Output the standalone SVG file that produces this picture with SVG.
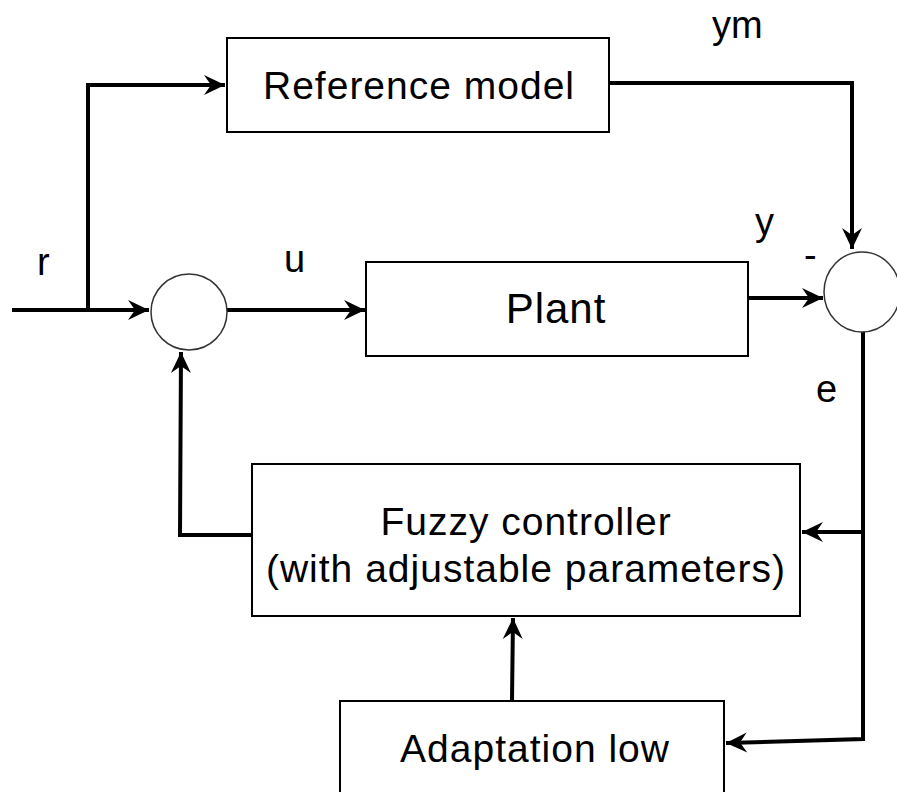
<svg xmlns="http://www.w3.org/2000/svg" width="897" height="792" viewBox="0 0 897 792">
<defs>
<marker id="ah" markerUnits="userSpaceOnUse" markerWidth="26" markerHeight="26" viewBox="-24 -13 26 26" refX="0" refY="0" orient="auto">
<path d="M0,0 L-21,-10 L-14,0 L-21,10 Z" fill="#000"/>
</marker>
</defs>
<style>
.box{fill:#fff;stroke:#000;stroke-width:2}
.sum{fill:#fff;stroke:#333;stroke-width:1.5}
.wire{fill:none;stroke:#000;stroke-width:4;stroke-linejoin:miter}
.lbl{font-family:"Liberation Sans",Arial,sans-serif;font-size:38px;fill:#000}
.t{font-family:"Liberation Sans",Arial,sans-serif;font-size:39px;letter-spacing:1px;fill:#000;text-anchor:middle}
</style>
<rect width="897" height="792" fill="#fff"/>
<g id="connectors">
<path class="wire" d="M12,310 L149,310" marker-end="url(#ah)"/>
<path class="wire" d="M88,310 L88,85 L225,85" marker-end="url(#ah)"/>
<path class="wire" d="M227,310 L365,310" marker-end="url(#ah)"/>
<path class="wire" d="M609,83 L852,83 L852,249" marker-end="url(#ah)"/>
<path class="wire" d="M748,298 L823,298" marker-end="url(#ah)"/>
<path class="wire" d="M863,331 L863,739 L726,743" marker-end="url(#ah)"/>
<path class="wire" d="M863,532 L802,532" marker-end="url(#ah)"/>
<path class="wire" d="M252,535 L180,535 L181,352" marker-end="url(#ah)"/>
<path class="wire" d="M512,700 L513,618" marker-end="url(#ah)"/>
</g>
<g id="sum1"><circle class="sum" cx="189" cy="312" r="38"/></g>
<g id="sum2"><ellipse class="sum" cx="862" cy="292" rx="38" ry="40"/></g>
<g id="reference-model">
<rect class="box" x="227" y="38" width="382" height="94"/>
<text class="t" x="419" y="99">Reference model</text>
</g>
<g id="plant">
<rect class="box" x="366" y="262" width="382" height="94"/>
<text class="t" x="556" y="323" style="font-size:42px">Plant</text>
</g>
<g id="fuzzy-controller">
<rect class="box" x="252" y="464" width="548" height="152"/>
<text class="t" x="526" y="535">Fuzzy controller</text>
<text class="t" x="526" y="582">(with adjustable parameters)</text>
</g>
<g id="adaptation-low">
<rect class="box" x="340" y="701" width="384" height="110"/>
<text class="t" x="535" y="762">Adaptation low</text>
</g>
<g id="labels">
<text class="lbl" x="37" y="275">r</text>
<text class="lbl" x="284" y="272">u</text>
<text class="lbl" x="712" y="38">ym</text>
<text class="lbl" x="755" y="235">y</text>
<text class="lbl" x="804" y="268">-</text>
<text class="lbl" x="816" y="402">e</text>
</g>
</svg>
